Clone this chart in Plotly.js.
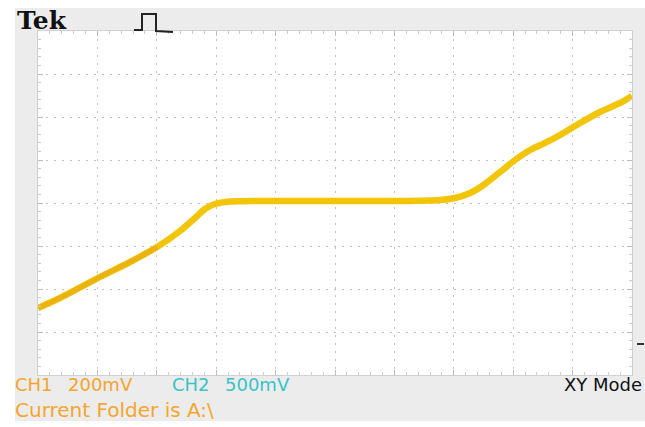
<!DOCTYPE html>
<html>
<head>
<meta charset="utf-8">
<script src="https://cdn.plot.ly/plotly-3.0.1.min.js"></script>
<style>html,body{margin:0;padding:0;background:#fff;}#chart{width:645px;height:427px;}</style>
</head>
<body>
<div id="chart"></div>
<script>
// XY-mode trace: x = CH1 (V), y = CH2 (V)
var ch1Volts = [-1.000,-0.926,-0.791,-0.690,-0.599,-0.522,-0.471,-0.438,-0.404,-0.354,-0.253,-0.118,0.051,0.219,0.354,0.404,0.455,0.505,0.556,0.606,0.657,0.707,0.758,0.825,0.892,0.960,1.000];
var ch2Volts = [-1.221,-1.105,-0.860,-0.686,-0.512,-0.326,-0.174,-0.070,-0.012,0.017,0.023,0.023,0.023,0.023,0.035,0.058,0.116,0.221,0.360,0.500,0.616,0.698,0.791,0.930,1.058,1.163,1.244];
var statusLabels = ["CH1", "200mV", "CH2", "500mV", "XY Mode", "Current Folder is A:\\", "Tek"];

// plot area in pixels
var L = 38, R = 632, T = 31, B = 375;
function px(x){ return (x - L) / (R - L); }
function py(y){ return (B - y) / (B - T); }

var traces = [
  {x: ch1Volts, y: ch2Volts, mode: 'lines', line: {color: '#f3c508', width: 6.5, shape: 'spline', smoothing: 0.6}, hoverinfo: 'skip'},
  {x: ch1Volts.slice(0, 5), y: ch2Volts.slice(0, 5), mode: 'lines', line: {color: '#e4a418', width: 5, shape: 'spline', smoothing: 0.6}, opacity: 0.55, hoverinfo: 'skip'}
];

var orange = '#f5a52c', cyan = '#3ac3c9';
function ann(text, x, y, size, color, family, extra){
  var a = {text: text, x: px(x), y: py(y), xref: 'paper', yref: 'paper', xanchor: 'left', yanchor: 'middle', showarrow: false,
    font: {size: size, color: color, family: family}};
  for (var k in extra) a[k] = extra[k];
  return a;
}
var sans = 'DejaVu Sans, sans-serif';
var annotations = [
  ann(statusLabels[0], 13, 384, 18, orange, sans),
  ann(statusLabels[1], 66, 384, 18, orange, sans),
  ann(statusLabels[2], 170, 384, 18, cyan, sans),
  ann(statusLabels[3], 223, 384, 18, cyan, sans),
  ann(statusLabels[4], 562, 384, 18, '#111', sans),
  ann(statusLabels[5], 13, 410, 20, orange, sans),
  ann('<b>' + statusLabels[6] + '</b>', 15, 21, 25, '#111', 'DejaVu Serif, serif')
];

var shapes = [
  // white margins outside the scope frame
  {type: 'rect', xref: 'paper', yref: 'paper', x0: px(-5), x1: px(650), y0: py(-5), y1: py(8), fillcolor: '#fff', line: {width: 0}, layer: 'below'},
  {type: 'rect', xref: 'paper', yref: 'paper', x0: px(-5), x1: px(15), y0: py(-5), y1: py(432), fillcolor: '#fff', line: {width: 0}, layer: 'below'},
  {type: 'rect', xref: 'paper', yref: 'paper', x0: px(-5), x1: px(650), y0: py(421), y1: py(432), fillcolor: '#fff', line: {width: 0}, layer: 'below'},
  // trigger pulse icon
  {type: 'path', xref: 'paper', yref: 'paper', layer: 'above',
   path: 'M' + px(134) + ',' + py(30) + ' L' + px(142) + ',' + py(30) + ' L' + px(142) + ',' + py(14) + ' L' + px(156) + ',' + py(14) + ' L' + px(156) + ',' + py(31) + ' L' + px(173) + ',' + py(32),
   line: {color: '#222', width: 2}},
  // right-edge marker
  {type: 'line', xref: 'paper', yref: 'paper', x0: px(637), x1: px(644), y0: py(344), y1: py(344), line: {color: '#333', width: 2}}
];

var layout = {
  width: 645, height: 427,
  margin: {l: L, r: 645 - R, t: T, b: 427 - B, pad: 0},
  paper_bgcolor: '#ececec', plot_bgcolor: '#ffffff',
  showlegend: false,
  xaxis: {range: [-1, 1], tick0: -1, dtick: 0.2, showticklabels: false, zeroline: false,
    showgrid: true, gridcolor: '#c2c2c2', gridwidth: 1, griddash: '2px,6px',
    showline: true, linecolor: '#cfcfcf', linewidth: 1, mirror: 'allticks',
    ticks: 'inside', ticklen: 5, tickcolor: '#bdbdbd',
    minor: {dtick: 0.04, ticks: 'inside', ticklen: 3, tickcolor: '#cdcdcd', showgrid: false}},
  yaxis: {range: [-2, 2], tick0: -2, dtick: 0.5, showticklabels: false, zeroline: false,
    showgrid: true, gridcolor: '#c2c2c2', gridwidth: 1, griddash: '2px,6px',
    showline: true, linecolor: '#cfcfcf', linewidth: 1, mirror: 'allticks',
    ticks: 'inside', ticklen: 5, tickcolor: '#bdbdbd',
    minor: {dtick: 0.1, ticks: 'inside', ticklen: 3, tickcolor: '#cdcdcd', showgrid: false}},
  annotations: annotations,
  shapes: shapes
};

Plotly.newPlot('chart', traces, layout, {displayModeBar: false, staticPlot: true});
</script>
</body>
</html>
